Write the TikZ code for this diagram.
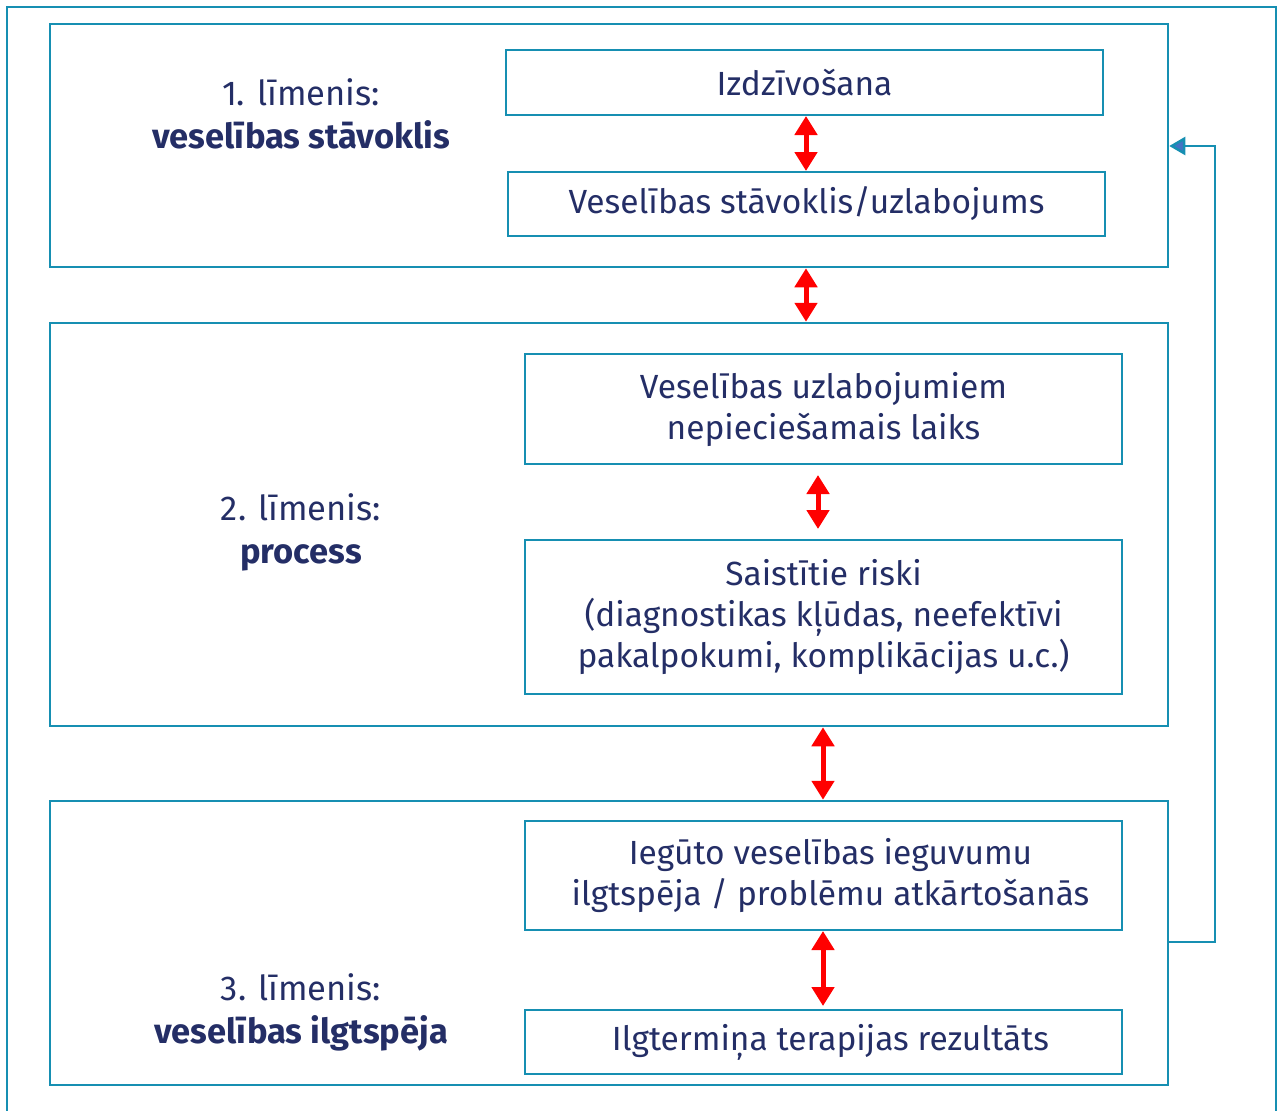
\documentclass[tikz,border=0pt]{standalone}
\usepackage{fontspec}
\setmainfont{Fira Sans}
\usetikzlibrary{positioning}
\usetikzlibrary{arrows.meta}
\definecolor{frame}{RGB}{22,143,178}
\definecolor{ink}{RGB}{36,46,102}
\definecolor{tipblue}{RGB}{68,114,196}
\tikzset{lvl/.style={draw=frame,line width=2.5pt}}
\tikzset{item/.style={draw=frame,line width=2pt,text=ink,align=center,inner sep=0pt,
  font=\fontsize{33.5}{41}\selectfont}}
\tikzset{lab/.style={text=ink,align=center,font=\fontsize{34.5}{43}\selectfont}}
\tikzset{link/.style={red,line width=5pt,{Triangle[width=22pt,length=19pt]}-{Triangle[width=22pt,length=19pt]}}}

\begin{document}
\begin{tikzpicture}[x=1pt,y=-1pt]
\useasboundingbox (0,0) rectangle (1278,1111);
\draw[lvl] (7,1130) -- (7,7) -- (1276,7) -- (1276,1130);

% levels
\node[lvl,minimum width=1118pt,minimum height=243pt] (L1) at (609,145.5) {};
\node[lvl,minimum width=1118pt,minimum height=403pt] (L2) at (609,524.5) {};
\node[lvl,minimum width=1118pt,minimum height=284pt] (L3) at (609,943) {};

\node[lab] (t1) at (301,114) {1. līmenis:\\\textbf{veselības stāvoklis}};
\node[lab] (t2) at (301,532) {2. līmenis:\\\textbf{process}};
\node[lab] (t3) at (301,1012) {3. līmenis:\\\textbf{veselības ilgtspēja}};

% boxes
\node[item,minimum width=597pt,minimum height=65pt] (surv) at (804.5,82.5) {Izdzīvošana};
\node[item,minimum width=597pt,minimum height=64pt] (state) at (806.5,204) {Veselības stāvoklis/uzlabojums};
\node[item,minimum width=597pt,minimum height=110pt] (time) at (823.5,409) {Veselības uzlabojumiem\\nepieciešamais laiks};
\node[item,minimum width=597pt,minimum height=154pt] (risk) at (823.5,617) {Saistītie riski\\(diagnostikas kļūdas, neefektīvi\\pakalpokumi, komplikācijas u.c.)};
\node[item,minimum width=597pt,minimum height=109pt] (keep) at (823.5,875.5) {\hspace*{14pt}Iegūto veselības ieguvumu\\\hspace*{14pt}ilgtspēja / problēmu atkārtošanās};
\node[item,minimum width=597pt,minimum height=64pt] (long) at (823.5,1042) {\hspace*{14pt}Ilgtermiņa terapijas rezultāts};

% links
\draw[link] (surv.south -| 806,0) -- (state.north -| 806,0);
\draw[link] (L1.south -| 806,0) -- (L2.north -| 806,0);
\draw[link] ([yshift=-10pt]time.south -| 818,0) -- ([yshift=10pt]risk.north -| 818,0);
\draw[link] (L2.south -| 823,0) -- (L3.north -| 823,0);
\draw[link] (keep.south -| 823,0) -- ([yshift=3pt]long.north -| 823,0);

% feedback
\draw[frame,line width=2.5pt,-{Triangle[width=18pt,length=16pt,fill=tipblue]}]
  (L3.east |- 0,942) -- (1215,942) -- (1215,146) -- (L1.east |- 0,146);
\end{tikzpicture}
\end{document}
